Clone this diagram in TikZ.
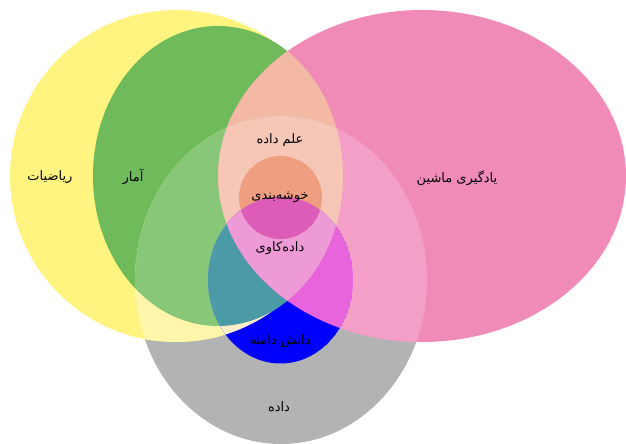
\documentclass[tikz,border=0pt]{standalone}
\usepackage{fontspec}
\newfontfamily\farsi[Script=Arabic]{DejaVu Sans}
\TeXXeTstate=1

\definecolor{riaziyellow}{HTML}{FFF480}
\definecolor{amargreen}{HTML}{6FBB5B}
\definecolor{mashinpink}{HTML}{F08BB8}
\definecolor{elmpeach}{HTML}{F4B9A5}
\definecolor{dadegray}{HTML}{B3B3B3}
\definecolor{lightyellow}{HTML}{FFF6AC}
\definecolor{lightgreen}{HTML}{88C777}
\definecolor{lightpink}{HTML}{F39FC8}
\definecolor{lightpeach}{HTML}{F6C6B6}
\definecolor{damaneblue}{HTML}{0000FF}
\definecolor{creamy}{HTML}{FFEFC8}
\definecolor{tealish}{HTML}{4A9AA8}
\definecolor{magentish}{HTML}{E864DC}
\definecolor{kavipink}{HTML}{EE9AD6}
\definecolor{khooshesalmon}{HTML}{EF9F80}
\definecolor{khoosheblue}{HTML}{DD5CB8}

\tikzset{venntext/.style={font=\farsi\fontsize{13}{15}\selectfont, text=black, inner sep=0pt}}

\begin{document}
\begin{tikzpicture}[x=1pt, y=1pt]

  \newcommand\Ypath{(176,268) circle [radius=166]}
  \newcommand\Gpath{(218,268) ellipse [x radius=125, y radius=150]}
  \newcommand\Ppath{(422,268) ellipse [x radius=204, y radius=166]}
  \newcommand\Dpath{(281,164) ellipse [x radius=146, y radius=164]}
  \newcommand\Bpath{(280.5,164) ellipse [x radius=72.5, y radius=83.5]}
  \newcommand\Cpath{(280.5,246.5) circle [radius=41.5]}

  \useasboundingbox (0,0) rectangle (626,444);

  % base sets
  \fill[dadegray] \Dpath;
  \fill[riaziyellow] \Ypath;
  \fill[amargreen] \Gpath;
  \fill[mashinpink] \Ppath;
  \begin{scope}
    \clip \Ppath;
    \fill[elmpeach] \Gpath;
  \end{scope}

  % data set lightens what it covers
  \begin{scope}
    \clip \Dpath;
    \fill[lightyellow] \Ypath;
    \fill[lightgreen] \Gpath;
    \fill[lightpink] \Ppath;
    \clip \Ppath;
    \fill[lightpeach] \Gpath;
  \end{scope}

  % domain knowledge
  \begin{scope}
    \clip \Bpath;
    \fill[damaneblue] \Bpath;
    \fill[creamy] \Ypath;
    \fill[tealish] \Gpath;
    \fill[magentish] \Ppath;
    \clip \Ppath;
    \fill[kavipink] \Gpath;
  \end{scope}

  % clustering
  \fill[khooshesalmon] \Cpath;
  \begin{scope}
    \clip \Bpath;
    \fill[khoosheblue] \Cpath;
  \end{scope}

  \node[venntext] (riazi) at (50,267) {\beginR ریاضیات\endR};
  \node[venntext] (amar) at (133,267) {\beginR آمار\endR};
  \node[venntext] (mashin) at (457,266) {\beginR یادگیری ماشین\endR};
  \node[venntext] (elm) at (280,304) {\beginR علم داده\endR};
  \node[venntext] (khooshe) at (280,247) {\beginR خوشه‌بندی\endR};
  \node[venntext] (kavi) at (280,196) {\beginR داده‌کاوی\endR};
  \node[venntext] (damane) at (280,103) {\beginR دانش دامنه\endR};
  \node[venntext] (dade) at (279,37) {\beginR داده\endR};

\end{tikzpicture}
\end{document}
